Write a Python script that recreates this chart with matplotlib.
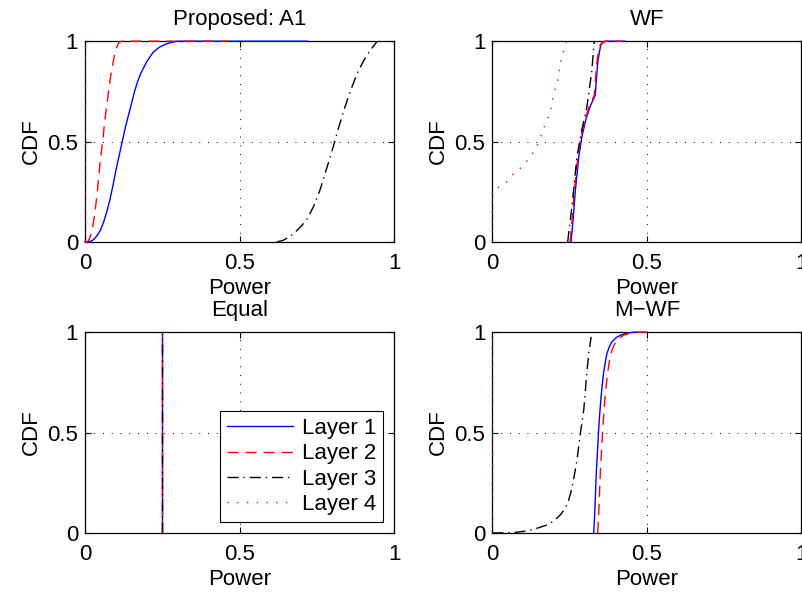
import numpy as np
import matplotlib.pyplot as plt

plt.rcParams['font.family'] = ['Liberation Sans', 'DejaVu Sans']
plt.rcParams['font.size'] = 16

# Proposed: A1
a1_l1_x = [0, 0.01, 0.02, 0.03, 0.04, 0.05, 0.06, 0.07, 0.08, 0.09, 0.10, 0.11, 0.12, 0.13,
           0.14, 0.15, 0.16, 0.17, 0.18, 0.19, 0.20, 0.22, 0.24, 0.26, 0.28, 0.30, 0.72]
a1_l1_y = [0, 0, 0.005, 0.015, 0.035, 0.06, 0.1, 0.15, 0.21, 0.28, 0.36, 0.43, 0.5, 0.57,
           0.63, 0.69, 0.75, 0.8, 0.84, 0.87, 0.90, 0.945, 0.97, 0.985, 0.995, 1, 1]
a1_l2_x = [0, 0.005, 0.01, 0.015, 0.02, 0.025, 0.03, 0.035, 0.04, 0.045, 0.05, 0.055, 0.06,
           0.065, 0.07, 0.075, 0.08, 0.085, 0.09, 0.095, 0.10, 0.105, 0.11, 0.12, 0.46]
a1_l2_y = [0, 0, 0.005, 0.02, 0.045, 0.08, 0.13, 0.19, 0.26, 0.34, 0.42, 0.48, 0.55,
           0.62, 0.68, 0.74, 0.8, 0.85, 0.89, 0.93, 0.96, 0.98, 0.995, 1, 1]
a1_l3_x = [0.62, 0.64, 0.66, 0.68, 0.70, 0.72, 0.74, 0.76, 0.78, 0.80, 0.82, 0.84, 0.86,
           0.88, 0.90, 0.92, 0.945]
a1_l3_y = [0, 0.008, 0.025, 0.05, 0.08, 0.12, 0.18, 0.26, 0.36, 0.46, 0.57, 0.67, 0.76,
           0.84, 0.90, 0.95, 1]
a1_l4_x = [0, 0]
a1_l4_y = [0, 1]

# WF
wf_l1_x = [0.255, 0.262, 0.269, 0.28, 0.29, 0.304, 0.318, 0.333, 0.337, 0.341, 0.347, 0.352, 0.366, 0.43]
wf_l1_y = [0, 0.12, 0.26, 0.425, 0.525, 0.616, 0.68, 0.73, 0.81, 0.889, 0.95, 0.985, 1, 1]
wf_l2_x = [0.252, 0.259, 0.266, 0.277, 0.287, 0.301, 0.315, 0.33, 0.334, 0.338, 0.344, 0.35, 0.364, 0.42]
wf_l2_y = [0, 0.12, 0.26, 0.425, 0.525, 0.616, 0.68, 0.73, 0.81, 0.889, 0.95, 0.985, 1, 1]
wf_l3_x = [0.244, 0.258, 0.274, 0.29, 0.306, 0.322, 0.33]
wf_l3_y = [0, 0.18, 0.425, 0.56, 0.67, 0.85, 1]
wf_l4_x = [0, 0, 0.024, 0.047, 0.069, 0.091, 0.112, 0.132, 0.147, 0.157, 0.168, 0.18,
           0.19, 0.2, 0.211, 0.22, 0.236, 0.24]
wf_l4_y = [0, 0.26, 0.275, 0.30, 0.34, 0.367, 0.403, 0.444, 0.486, 0.527, 0.574, 0.615,
           0.662, 0.748, 0.797, 0.889, 0.98, 1]

# Equal
eq_power = [0.25, 0.25, 0.25, 0.25]

# M-WF
mwf_l1_x = [0.328, 0.331, 0.334, 0.337, 0.341, 0.344, 0.348, 0.352, 0.356, 0.36, 0.365,
            0.371, 0.378, 0.387, 0.40, 0.414, 0.435, 0.457, 0.5]
mwf_l1_y = [0, 0.08, 0.2, 0.313, 0.42, 0.512, 0.6, 0.678, 0.74, 0.794, 0.845,
            0.894, 0.925, 0.952, 0.972, 0.985, 0.995, 1, 1]
mwf_l2_x = [0.341, 0.344, 0.347, 0.35, 0.354, 0.357, 0.361, 0.365, 0.369, 0.373, 0.378,
            0.384, 0.391, 0.40, 0.412, 0.425, 0.445, 0.465, 0.5]
mwf_l2_y = [0, 0.08, 0.2, 0.313, 0.42, 0.512, 0.6, 0.678, 0.74, 0.794, 0.845,
            0.894, 0.925, 0.952, 0.972, 0.985, 0.995, 1, 1]
mwf_l3_x = [0, 0.069, 0.1, 0.134, 0.177, 0.2, 0.22, 0.232, 0.244, 0.254, 0.263, 0.274,
            0.285, 0.296, 0.304, 0.312, 0.32]
mwf_l3_y = [0, 0.002, 0.008, 0.018, 0.04, 0.06, 0.09, 0.115, 0.148, 0.2, 0.264, 0.363,
            0.496, 0.612, 0.761, 0.894, 0.977]
mwf_l4_x = [0, 0]
mwf_l4_y = [0, 1]

labels = ['Layer 1', 'Layer 2', 'Layer 3', 'Layer 4']
styles = [dict(color='b', ls='-'),
          dict(color='r', ls=(0, (8, 5))),
          dict(color='k', ls=(0, (8, 3.5, 1, 3.5))),
          dict(color='m', ls=(0, (1, 6)))]

fig = plt.figure(figsize=(8.03, 5.94), dpi=100)
w, h = 0.385, 0.338
ax1 = fig.add_axes([0.106, 0.5926, w, h])
ax2 = fig.add_axes([0.613, 0.5926, w, h])
ax3 = fig.add_axes([0.106, 0.1027, w, h])
ax4 = fig.add_axes([0.613, 0.1027, w, h])

panels = [
    (ax1, 'Proposed: A1', [(a1_l1_x, a1_l1_y), (a1_l2_x, a1_l2_y), (a1_l3_x, a1_l3_y), (a1_l4_x, a1_l4_y)]),
    (ax2, 'WF', [(wf_l1_x, wf_l1_y), (wf_l2_x, wf_l2_y), (wf_l3_x, wf_l3_y), (wf_l4_x, wf_l4_y)]),
    (ax3, 'Equal', [([p, p], [0, 1]) for p in eq_power]),
    (ax4, 'M\u2212WF', [(mwf_l1_x, mwf_l1_y), (mwf_l2_x, mwf_l2_y), (mwf_l3_x, mwf_l3_y), (mwf_l4_x, mwf_l4_y)]),
]

for ax, title, curves in panels:
    for (x, y), st, lab in zip(curves, styles, labels):
        ax.plot(x, y, lw=1.0, label=lab, zorder=3, clip_on=False, **st)
    ax.set_xlim(0, 1)
    ax.set_ylim(0, 1)
    ax.set_xticks([0, 0.5, 1])
    ax.set_yticks([0, 0.5, 1])
    ax.set_xticklabels(['0', '0.5', '1'])
    ax.set_yticklabels(['0', '0.5', '1'])
    ax.tick_params(direction='in', top=True, right=True, length=4, width=0.8)
    ax.tick_params(axis='x', pad=8)
    ax.tick_params(axis='y', pad=5)
    ax.grid(True, color='k', ls=(0, (1, 8)), lw=0.7)
    ax.set_title(title, fontsize=16, pad=12)
    ax.set_xlabel('Power', labelpad=3)
    ax.set_ylabel('CDF', labelpad=4)
    for s in ax.spines.values():
        s.set_linewidth(0.9)

leg = ax3.legend(loc='lower right', fancybox=False, edgecolor='k', framealpha=1,
                 handlelength=3.0, handletextpad=0.4, borderaxespad=0.5,
                 labelspacing=0.2, borderpad=0.3, fontsize=16)
leg.get_frame().set_linewidth(0.8)

fig.savefig('out.png', dpi=100)
